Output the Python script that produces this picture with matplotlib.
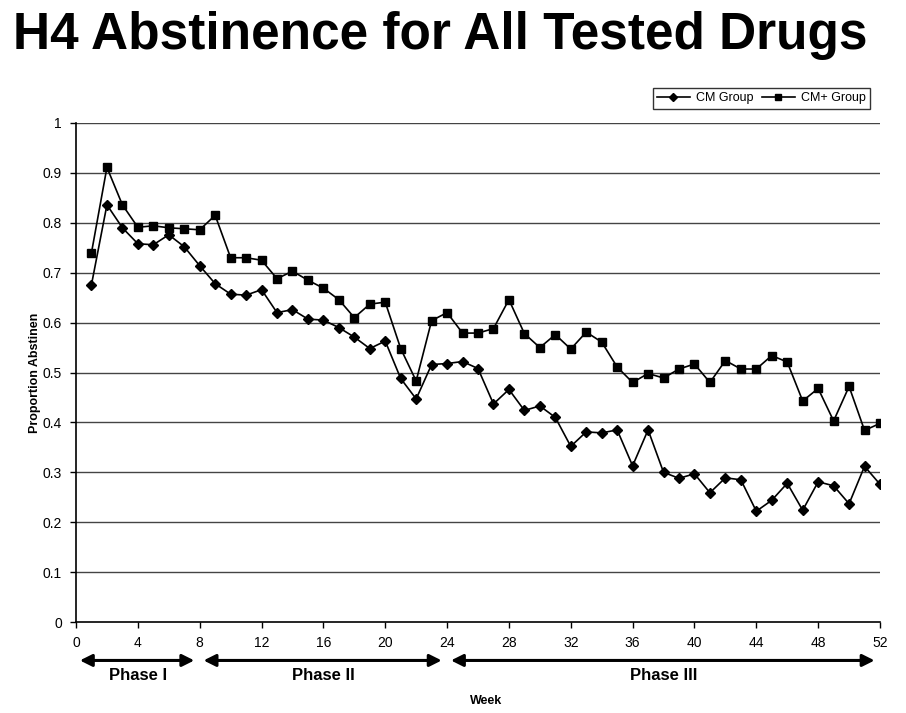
import numpy as np
import matplotlib
matplotlib.use('Agg')
import matplotlib.pyplot as plt
import matplotlib.transforms as mtransforms

plt.rcParams['font.family'] = ['Liberation Sans', 'DejaVu Sans']

# Weekly proportion abstinent
weeks = list(range(1, 53))
cm_group = [0.676, 0.836, 0.790, 0.758, 0.756, 0.776, 0.752, 0.714, 0.678, 0.657,
            0.655, 0.666, 0.620, 0.626, 0.607, 0.605, 0.590, 0.571, 0.548, 0.563,
            0.488, 0.447, 0.516, 0.518, 0.522, 0.508, 0.437, 0.466, 0.424, 0.433,
            0.410, 0.352, 0.381, 0.379, 0.385, 0.313, 0.385, 0.300, 0.288, 0.297,
            0.259, 0.289, 0.285, 0.222, 0.244, 0.278, 0.224, 0.281, 0.273, 0.237,
            0.312, 0.276]
cm_plus_group = [0.740, 0.911, 0.836, 0.791, 0.794, 0.790, 0.788, 0.786, 0.815, 0.730,
                 0.730, 0.725, 0.688, 0.703, 0.685, 0.669, 0.646, 0.610, 0.637, 0.641,
                 0.548, 0.483, 0.604, 0.620, 0.579, 0.579, 0.588, 0.646, 0.578, 0.550,
                 0.576, 0.547, 0.581, 0.561, 0.511, 0.480, 0.498, 0.489, 0.507, 0.517,
                 0.480, 0.524, 0.507, 0.507, 0.534, 0.521, 0.443, 0.468, 0.403, 0.472,
                 0.384, 0.398]

x_ticks = list(range(0, 53, 4))
y_ticks = [0, 0.1, 0.2, 0.3, 0.4, 0.5, 0.6, 0.7, 0.8, 0.9, 1]
y_tick_labels = ['0', '0.1', '0.2', '0.3', '0.4', '0.5', '0.6', '0.7', '0.8', '0.9', '1']

# study phases (start week, end week)
phase_names = ['Phase I', 'Phase II', 'Phase III']
phase_starts = [0, 8, 24]
phase_ends = [8, 24, 52]

fig = plt.figure(figsize=(9.06, 7.13), dpi=100)
ax = fig.add_axes([0.0839, 0.1276, 0.8874, 0.6999])

ax.plot(weeks, cm_group, color='black', lw=1.2, marker='D', ms=5.5, label='CM Group')
ax.plot(weeks, cm_plus_group, color='black', lw=1.2, marker='s', ms=6, label='CM+ Group')

ax.set_xlim(0, 52)
ax.set_ylim(0, 1)
ax.set_xticks(x_ticks)
ax.set_yticks(y_ticks)
ax.set_yticklabels(y_tick_labels)
ax.tick_params(labelsize=10, length=4, width=1, color='black', pad=6)

# horizontal grid lines
for y in y_ticks[1:]:
    ax.axhline(y, color='#444444', lw=1.0, zorder=0)

for side in ['top', 'right']:
    ax.spines[side].set_visible(False)
ax.spines['left'].set_linewidth(1.2)
ax.spines['bottom'].set_linewidth(1.2)

ax.set_ylabel('Proportion Abstinen', fontsize=9, fontweight='bold', labelpad=1)

# phase arrows below the x axis
trans = mtransforms.blended_transform_factory(ax.transData, ax.transAxes)
for name, s, e in zip(phase_names, phase_starts, phase_ends):
    ax.annotate('', xy=(s + 0.25, -0.077), xytext=(e - 0.35, -0.077),
                xycoords=trans, textcoords=trans,
                arrowprops=dict(arrowstyle='<|-|>', color='black', lw=2.2,
                                mutation_scale=18, shrinkA=0, shrinkB=0))
    ax.text((s + e) / 2, -0.108, name, transform=trans, ha='center', va='center',
            fontsize=12, fontweight='bold')

ax.text(26.5, -0.158, 'Week', transform=trans, ha='center', va='center',
        fontsize=9, fontweight='bold')

leg = ax.legend(loc='upper right', bbox_to_anchor=(0.9876, 1.070), ncol=2,
                fontsize=9, frameon=True, fancybox=False, borderaxespad=0,
                handlelength=2.6, columnspacing=0.7, handletextpad=0.5,
                borderpad=0.35, markerscale=0.7)
leg.get_frame().set_edgecolor('black')
leg.get_frame().set_linewidth(1.0)

fig.text(0.486, 1 - 35 / 713, 'H4 Abstinence for All Tested Drugs', ha='center',
         va='center', fontsize=37, fontweight='bold')

fig.savefig('out.png', dpi=100)
